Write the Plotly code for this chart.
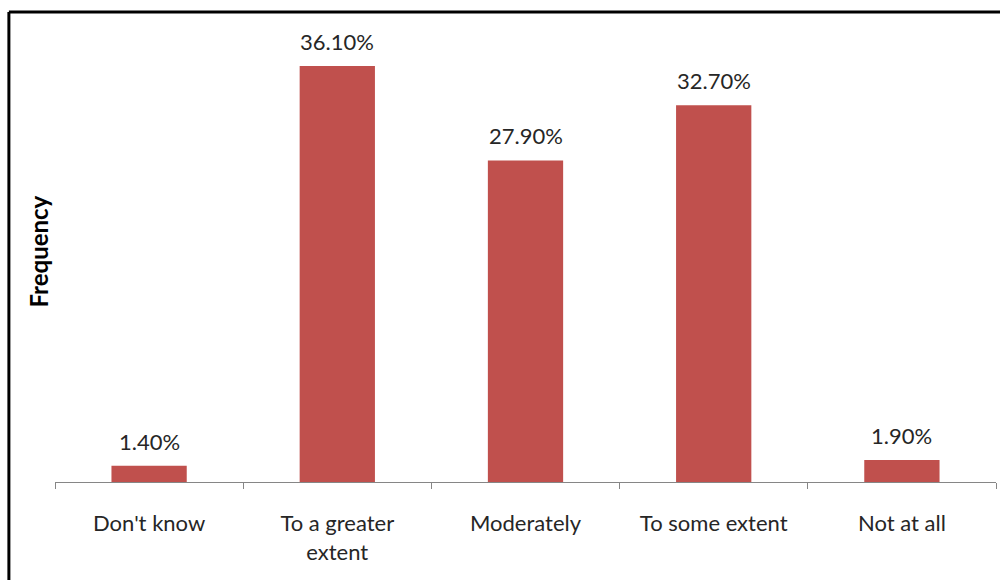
import plotly.graph_objects as go

categories = ["Don't know", "To a greater<br>extent", "Moderately", "To some extent", "Not at all"]
values = [1.4, 36.1, 27.9, 32.7, 1.9]
labels = ["1.40%", "36.10%", "27.90%", "32.70%", "1.90%"]

bar_color = "#C0504D"
font_family = "Lato, 'Open Sans', sans-serif"
text_color = "#262626"

fig = go.Figure(go.Bar(x=categories, y=values, marker=dict(color=bar_color, line=dict(width=0)),
                       hoverinfo="skip"))

for c, v, t in zip(categories, values, labels):
    fig.add_annotation(x=c, y=v, text=t, showarrow=False, yanchor="bottom", yshift=9,
                       font=dict(family=font_family, size=22, color=text_color))

fig.add_annotation(xref="paper", yref="paper", x=0, y=0.5, xshift=-17, text="<b>Frequency</b>",
                   textangle=-90, showarrow=False, xanchor="center", yanchor="middle",
                   font=dict(family=font_family, size=24, color="#000000"))

# frame (top and left borders)
fig.add_shape(type="line", xref="paper", yref="paper", x0=-0.049, x1=1.01, y0=1.0195, y1=1.0195,
              line=dict(color="black", width=3))
fig.add_shape(type="line", xref="paper", yref="paper", x0=-0.049, x1=-0.049, y0=1.0195, y1=-0.3,
              line=dict(color="black", width=3))

fig.update_layout(
    width=1000, height=580,
    margin=dict(l=55, r=4, t=21, b=98),
    paper_bgcolor="white", plot_bgcolor="white",
    bargap=0.6, showlegend=False,
    font=dict(family=font_family, size=22, color=text_color),
)
fig.update_xaxes(showline=True, linecolor="#868686", linewidth=1, ticks="outside", tickson="boundaries",
                 ticklen=6, tickcolor="#868686", ticklabelstandoff=22, showgrid=False,
                 tickfont=dict(family=font_family, size=22, color=text_color))
fig.update_yaxes(range=[0, 40], visible=False)

fig.write_html("out.html")
